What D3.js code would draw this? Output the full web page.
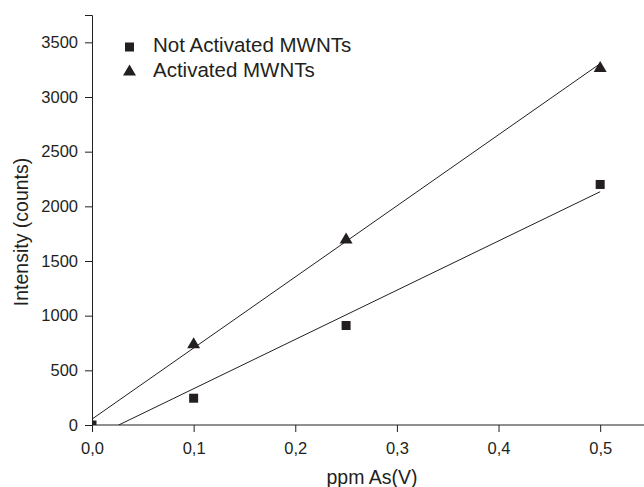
<!DOCTYPE html>
<html>
<head>
<meta charset="utf-8">
<title>Intensity vs ppm As(V)</title>
<style>
  body { margin: 0; background: #fff; }
  svg text { font-family: "Liberation Sans", Arial, sans-serif; fill: #231f20; }
</style>
</head>
<body>
<script src="https://d3js.org/d3.v7.min.js"></script>
<script>
// concentrations (ppm As(V))
var ppm = [0, 0.1, 0.25, 0.5];
// intensity (counts)
var notActivated = [0, 245, 910, 2200];
var activated = [0, 752, 1710, 3280];
var seriesNames = ["Not Activated MWNTs", "Activated MWNTs"];
var xTicks = [0, 0.1, 0.2, 0.3, 0.4, 0.5];
var yTicks = [0, 500, 1000, 1500, 2000, 2500, 3000, 3500];

var width = 644, height = 487;
var ink = "#231f20";

var svg = d3.select("body").append("svg")
    .attr("width", width)
    .attr("height", height);

var x = d3.scaleLinear().domain([0, 0.55]).range([92, 651]);
var y = d3.scaleLinear().domain([0, 3750]).range([425, 15]);

// least squares fit
function fit(xs, ys) {
    var mx = d3.mean(xs), my = d3.mean(ys);
    var sxy = d3.sum(xs, function(d, i) { return (d - mx) * (ys[i] - my); });
    var sxx = d3.sum(xs, function(d) { return (d - mx) * (d - mx); });
    var b = sxy / sxx;
    return { slope: b, icpt: my - b * mx };
}

// triangle marker, 13 wide, 11 high
var triPath = "M0,-5.5L6.5,5.5L-6.5,5.5Z";

svg.append("clipPath").attr("id", "plot")
  .append("rect")
    .attr("x", x(0)).attr("y", y(3750))
    .attr("width", x(0.55) - x(0)).attr("height", y(0) - y(3750));

var plot = svg.append("g").attr("clip-path", "url(#plot)");

[notActivated, activated].forEach(function(vals) {
    var f = fit(ppm, vals);
    plot.append("line")
        .attr("x1", x(0)).attr("y1", y(f.icpt))
        .attr("x2", x(0.5)).attr("y2", y(f.icpt + f.slope * 0.5))
        .attr("stroke", ink)
        .attr("stroke-width", 1);
});

plot.selectAll(".tri")
    .data(ppm)
    .enter().append("path")
    .attr("class", "tri")
    .attr("d", triPath)
    .attr("transform", function(d, i) { return "translate(" + x(d) + "," + y(activated[i]) + ")"; })
    .attr("fill", ink);

plot.selectAll(".sq")
    .data(ppm)
    .enter().append("rect")
    .attr("class", "sq")
    .attr("x", function(d) { return x(d) - 4.5; })
    .attr("y", function(d, i) { return y(notActivated[i]) - 4.5; })
    .attr("width", 9).attr("height", 9)
    .attr("fill", ink);

// x axis
var xAxis = svg.append("g").attr("transform", "translate(0," + y(0) + ")");
xAxis.call(d3.axisBottom(x).tickValues(d3.range(0, 0.551, 0.05)).tickSize(4).tickFormat(""));
xAxis.call(d3.axisBottom(x).tickValues(xTicks).tickSize(7).tickPadding(10)
    .tickFormat(function(d) { return d3.format(".1f")(d).replace(".", ","); }));
xAxis.selectAll("path.domain").attr("d", "M" + x(0) + ",0H" + x(0.55));

// y axis
var yAxis = svg.append("g").attr("transform", "translate(" + x(0) + ",0)");
yAxis.call(d3.axisLeft(y).tickValues(d3.range(0, 3751, 250)).tickSize(4).tickFormat(""));
yAxis.call(d3.axisLeft(y).tickValues(yTicks).tickSize(7).tickPadding(7).tickFormat(d3.format("d")));

svg.selectAll(".domain, .tick line").attr("stroke", ink).attr("stroke-width", 1);
svg.selectAll(".tick text")
    .style("font-size", "16.5px")
    .style("font-family", "'Liberation Sans', Arial, sans-serif")
    .attr("fill", ink);

// axis titles
svg.append("text")
    .attr("x", 372).attr("y", 484)
    .attr("text-anchor", "middle")
    .style("font-size", "19.5px")
    .text("ppm As(V)");

svg.append("text")
    .attr("transform", "translate(28,232) rotate(-90)")
    .attr("text-anchor", "middle")
    .style("font-size", "19.5px")
    .text("Intensity (counts)");

// legend
var leg = svg.append("g");
leg.append("rect").attr("x", 125).attr("y", 42.5).attr("width", 9).attr("height", 9).attr("fill", ink);
leg.append("path").attr("d", triPath).attr("transform", "translate(129.5,70)").attr("fill", ink);
leg.selectAll("text")
    .data(seriesNames)
    .enter().append("text")
    .attr("x", 153)
    .attr("y", function(d, i) { return 52 + i * 25; })
    .style("font-size", "20.5px")
    .text(function(d) { return d; });
</script>
</body>
</html>
